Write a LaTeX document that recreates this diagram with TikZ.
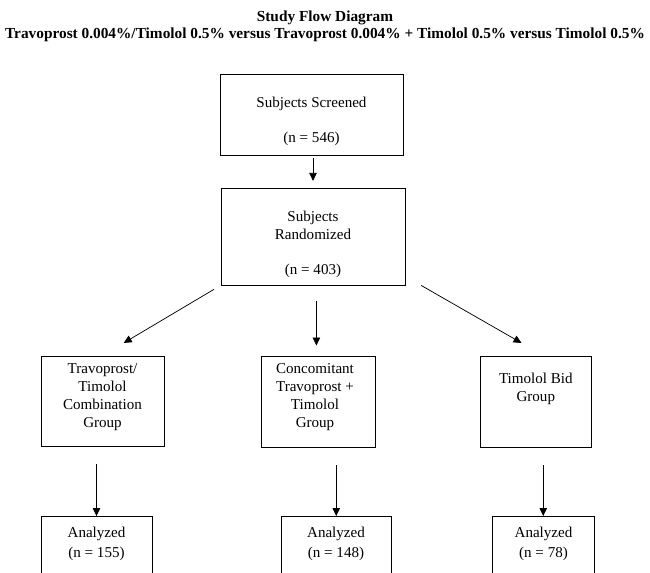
\documentclass[tikz,border=0pt]{standalone}
\usepackage{fontspec}
\setmainfont{Liberation Serif}
\usetikzlibrary{arrows.meta,fit}

\tikzset{
  box/.style={draw, line width=0.65pt, inner sep=0pt},
  txt/.style={align=center, inner sep=0pt, font=\fontsize{11.3}{13.5}\selectfont},
  arr/.style={line width=0.55pt, -{Triangle[length=6pt,width=5.6pt]}}
}

\begin{document}
\begin{tikzpicture}[x=0.75pt,y=0.75pt,yscale=-1,xscale=1]
\clip (0,0) rectangle (650,573);

%Title
\node[txt, font=\bfseries\fontsize{11.5}{12.75}\selectfont] (title) at (325,26.5) {Study Flow Diagram\\Travoprost 0.004\%/Timolol 0.5\% versus Travoprost 0.004\% + Timolol 0.5\% versus Timolol 0.5\%};

%Shape: Rectangle [screened]
\node[box, fit={(220,74) (403,155)}] (scr) {};
\node[txt] (scrt) at (311.5,121.5) {Subjects Screened\\[12.75pt](n = 546)};
%Shape: Rectangle [randomized]
\node[box, fit={(221,188) (405,285)}] (rnd) {};
\node[txt] (rndt) at (313,244.5) {Subjects\\Randomized\\[12.5pt](n = 403)};

%Shape: Rectangle [groups]
\node[box, fit={(41,356) (164,446)}] (grp1) {};
\node[txt] (grp1t) at (102.5,397) {Travoprost/\\Timolol\\Combination\\Group};
\node[box, fit={(261,356) (375,447)}] (grp2) {};
\node[txt] (grp2t) at (315,397) {Concomitant\\Travoprost +\\Timolol\\Group};
\node[box, fit={(480,356) (591,447)}] (grp3) {};
\node[txt] (grp3t) at (535.8,389) {Timolol Bid\\Group};

%Shape: Rectangle [analyzed]
\node[box, fit={(41,516.5) (152,600)}] (ana1) {};
\node[txt] (ana1t) at (96.5,544) {Analyzed\\[1.5pt](n = 155)};
\node[box, fit={(281,516.5) (391.5,600)}] (ana2) {};
\node[txt] (ana2t) at (336,544) {Analyzed\\[1.5pt](n = 148)};
\node[box, fit={(492,516.5) (594.5,600)}] (ana3) {};
\node[txt] (ana3t) at (543.5,544) {Analyzed\\[1.5pt](n = 78)};

%Straight Lines [screened to randomized]
\draw[arr, shorten <=2.25pt, shorten >=5pt] (rnd.north |- scr.south) -- (rnd.north);
%Straight Lines [randomized to groups]
\draw[arr, shorten <=5.7pt, shorten >=18.5pt] (rnd.south west) -- (grp1.north);
\draw[arr, shorten <=11.8pt, shorten >=7.5pt] ([xshift=-1.2pt]grp2.north |- rnd.south) -- ([xshift=-1.2pt]grp2.north);
\draw[arr, shorten >=19pt] ([xshift=11.8pt]rnd.south east) -- ([xshift=6pt]grp3.north);
%Straight Lines [groups to analyzed]
\draw[arr, shorten <=13.5pt] (ana1.north |- grp1.south) -- (ana1.north);
\draw[arr, shorten <=13.5pt] (ana2.north |- grp2.south) -- (ana2.north);
\draw[arr, shorten <=13.5pt] (ana3.north |- grp3.south) -- (ana3.north);

\end{tikzpicture}
\end{document}
